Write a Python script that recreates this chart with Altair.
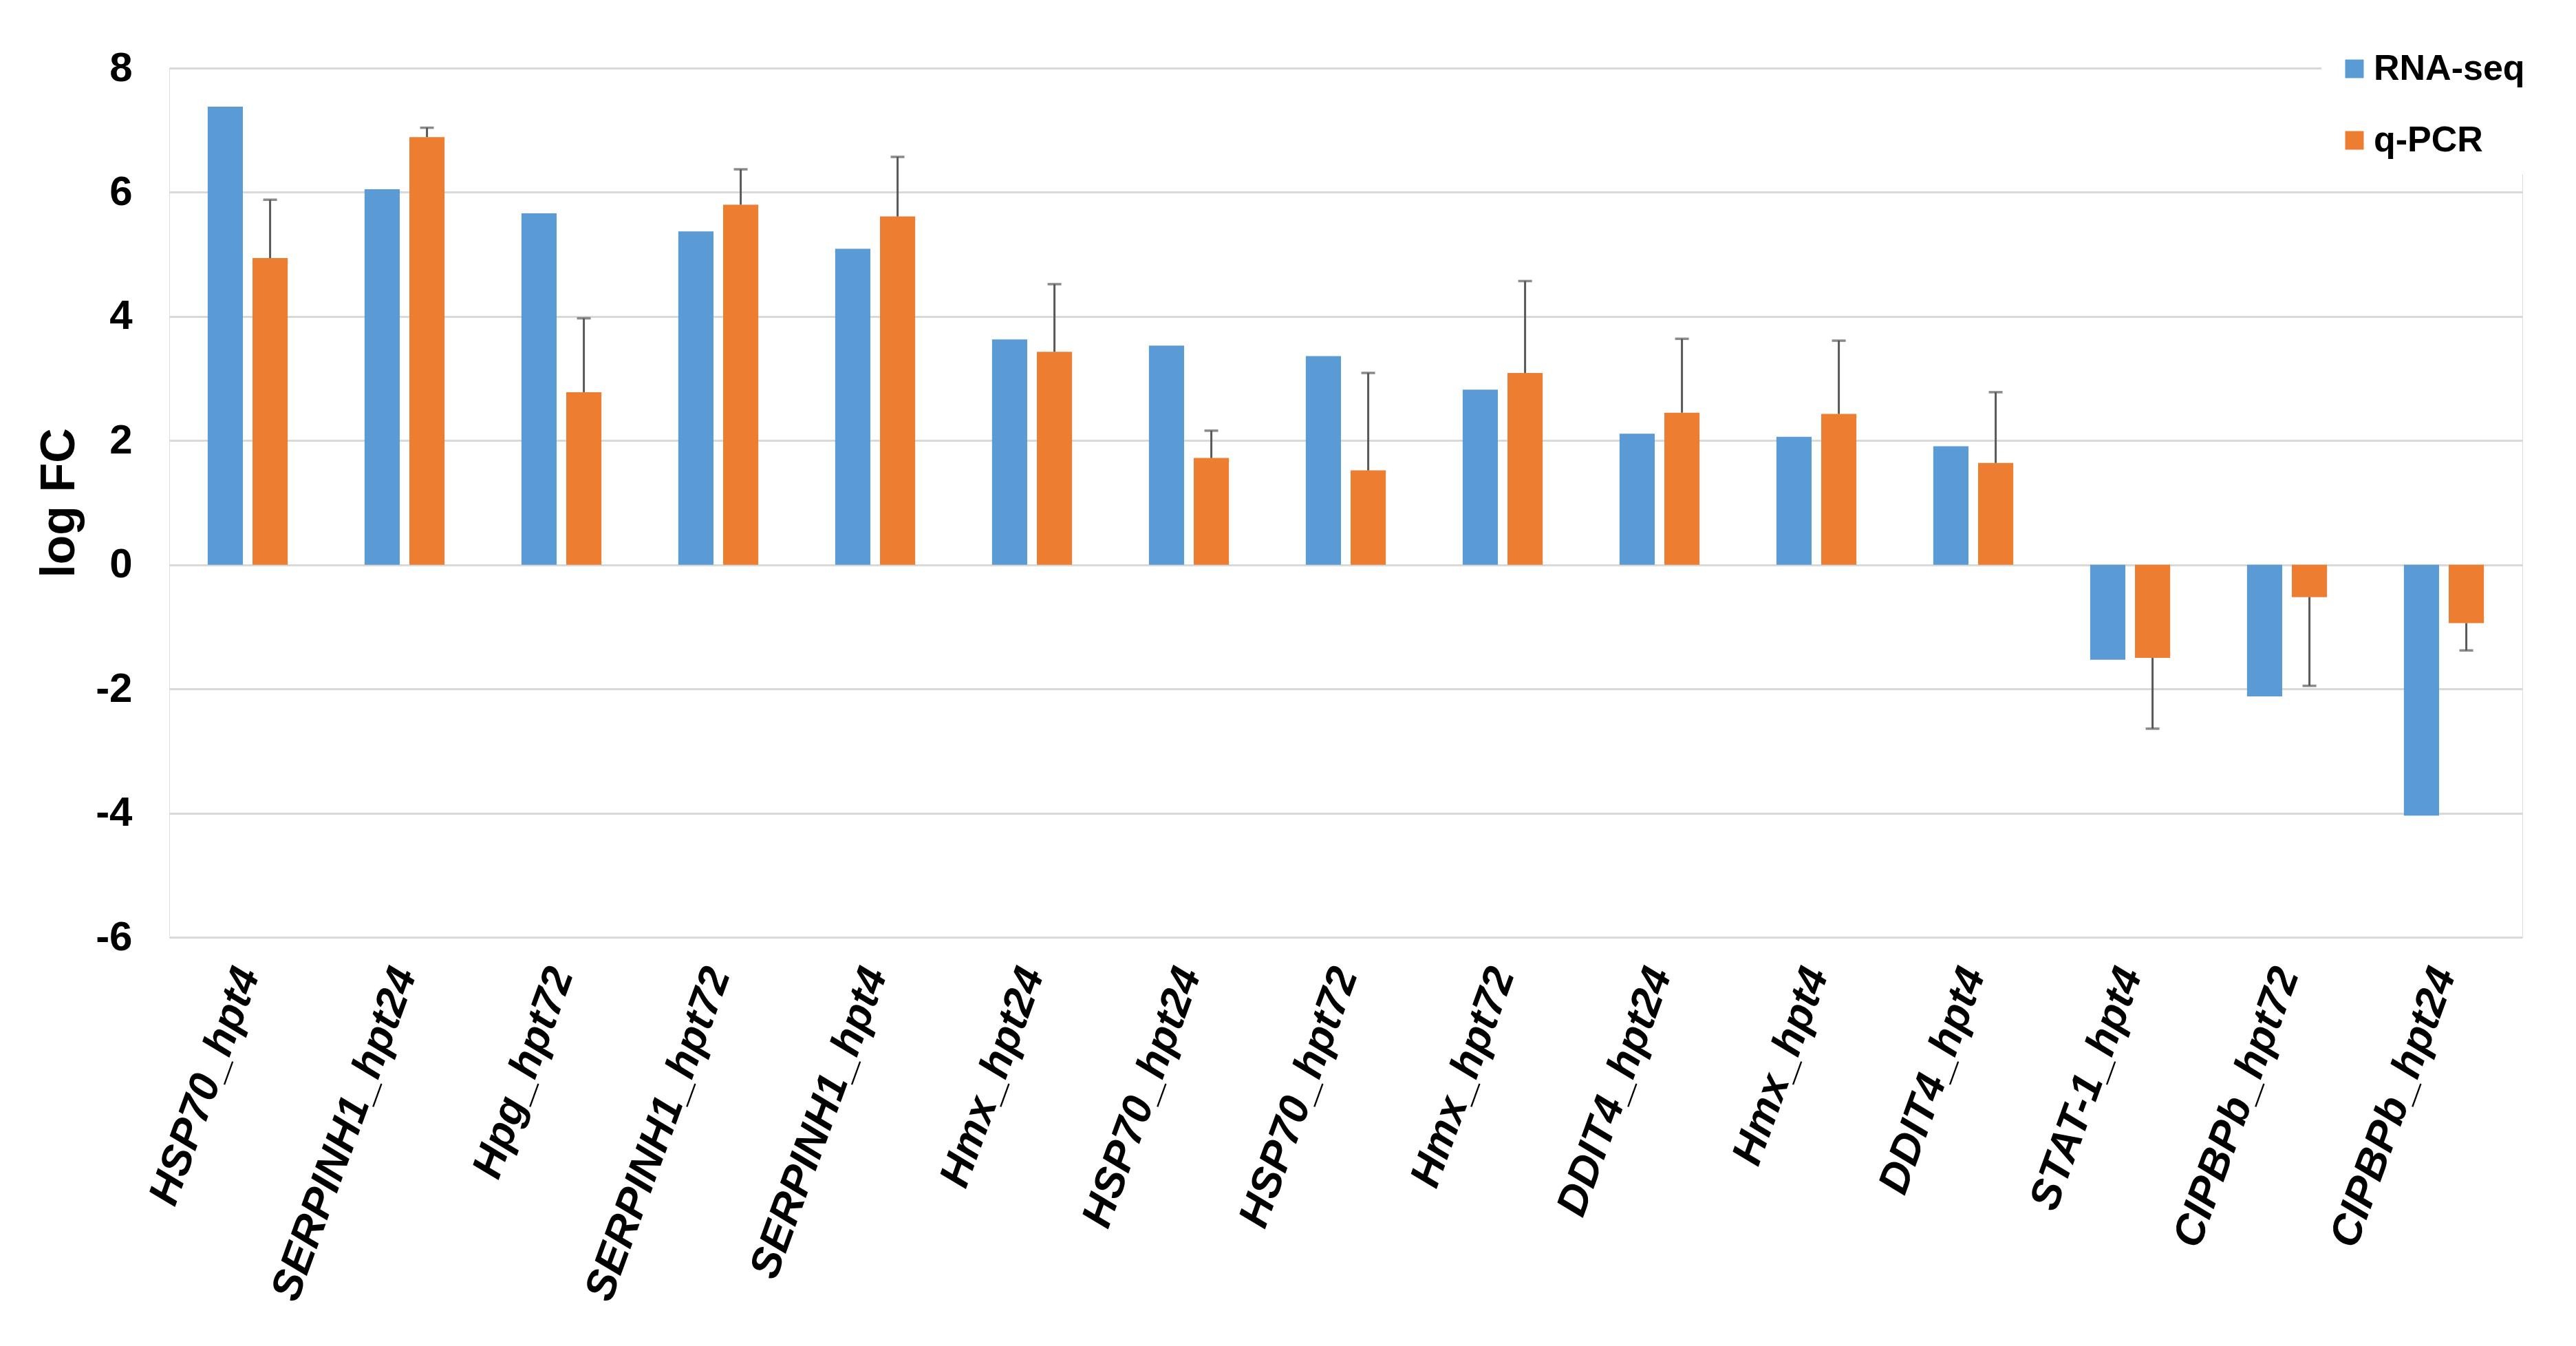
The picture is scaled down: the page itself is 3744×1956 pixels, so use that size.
import altair as alt
import pandas as pd

categories = ["HSP70_hpt4", "SERPINH1_hpt24", "Hpg_hpt72", "SERPINH1_hpt72", "SERPINH1_hpt4",
              "Hmx_hpt24", "HSP70_hpt24", "HSP70_hpt72", "Hmx_hpt72", "DDIT4_hpt24",
              "Hmx_hpt4", "DDIT4_hpt4", "STAT-1_hpt4", "CIPBPb_hpt72", "CIPBPb_hpt24"]
rnaseq = [7.38, 6.05, 5.66, 5.37, 5.09, 3.63, 3.53, 3.36, 2.82, 2.11, 2.06, 1.91, -1.53, -2.12, -4.04]
qpcr = [4.94, 6.89, 2.78, 5.80, 5.61, 3.43, 1.72, 1.52, 3.09, 2.45, 2.43, 1.64, -1.50, -0.52, -0.94]
qpcr_err = [0.94, 0.15, 1.19, 0.57, 0.96, 1.09, 0.44, 1.57, 1.48, 1.19, 1.18, 1.14, 1.14, 1.43, 0.44]
methods = ["RNA-seq", "q-PCR"]
colors = ["#5B9BD5", "#ED7D31"]
y_ticks = [-6, -4, -2, 0, 2, 4, 6, 8]

rows = []
for c, r in zip(categories, rnaseq):
    rows.append({"gene": c, "method": methods[0], "value": r})
bars_df = pd.DataFrame(rows + [{"gene": c, "method": methods[1], "value": q}
                               for c, q in zip(categories, qpcr)])

err_df = pd.DataFrame({
    "gene": categories,
    "method": methods[1],
    "value": qpcr,
    "end": [q + e if q >= 0 else q - e for q, e in zip(qpcr, qpcr_err)],
})

FONT = "Liberation Sans"

x_enc = alt.X("gene:N", sort=categories, title=None,
              scale=alt.Scale(paddingInner=0.49, paddingOuter=0.245),
              axis=alt.Axis(labelAngle=-70, labelAlign="right", labelBaseline="middle",
                            labelPadding=46, labelFontSize=62, labelFontWeight="bold",
                            labelFontStyle="italic", labelFont=FONT, labelColor="#000000",
                            domain=False, ticks=False, grid=False, labelLimit=1000))
xoff_enc = alt.XOffset("method:N", sort=methods,
                       scale=alt.Scale(domain=methods, paddingInner=0.215, paddingOuter=0))
y_scale = alt.Scale(domain=[-6, 8], nice=False, zero=False)

bars = alt.Chart(bars_df).mark_bar().encode(
    x=x_enc,
    xOffset=xoff_enc,
    y=alt.Y("value:Q", scale=y_scale, title="log FC",
            axis=alt.Axis(values=y_ticks, grid=True, gridColor="#D9D9D9", gridWidth=3,
                          labelExpr="'' + datum.value",
                          domain=False, ticks=False, labelPadding=54, labelFontSize=60,
                          labelFontWeight="bold", labelFont=FONT, labelColor="#000000",
                          titleFontSize=70, titleFontWeight="bold", titleFont=FONT,
                          titleColor="#000000", titlePadding=16)),
    color=alt.Color("method:N", sort=methods,
                    scale=alt.Scale(domain=methods, range=colors),
                    legend=alt.Legend(title=None, orient="none", legendX=3128, legendY=-47,
                                      symbolType="square", symbolSize=729, symbolStrokeWidth=0,
                                      labelFontSize=52, labelFontWeight="bold", labelFont=FONT,
                                      labelColor="#000000", labelOffset=2, rowPadding=52,
                                      labelLimit=1000,
                                      fillColor="white", padding=22, strokeColor="white")),
)

rules = alt.Chart(err_df).mark_rule(color="#595959", strokeWidth=3).encode(
    x=alt.X("gene:N", sort=categories),
    xOffset=alt.XOffset("method:N", sort=methods),
    y=alt.Y("value:Q"),
    y2=alt.Y2("end:Q"),
)

caps = alt.Chart(err_df).mark_tick(color="#595959", size=20, thickness=3.5, orient="horizontal").encode(
    x=alt.X("gene:N", sort=categories),
    xOffset=alt.XOffset("method:N", sort=methods),
    y=alt.Y("end:Q"),
)

chart = alt.layer(bars, rules, caps).properties(
    width=3420, height=1263,
    autosize=alt.AutoSizeParams(type="none"),
    padding={"left": 238, "top": 91, "right": 70, "bottom": 580},
).configure_view(stroke=None).configure(background="white")

chart.save("out.html", embed_options={"renderer": "svg", "actions": False})
